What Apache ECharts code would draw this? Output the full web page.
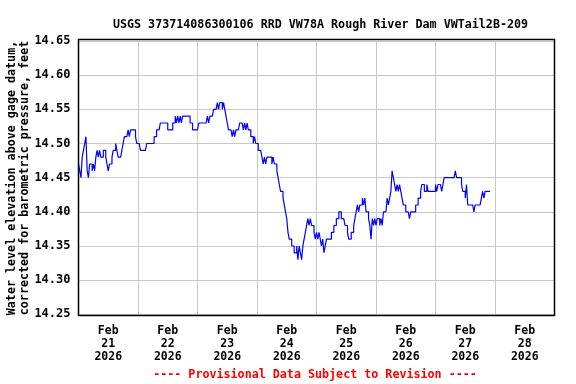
<!DOCTYPE html>
<html>
<head>
<meta charset="utf-8">
<script src="https://cdn.jsdelivr.net/npm/echarts@6.0.0/dist/echarts.min.js"></script>
<style>
html,body{margin:0;padding:0;background:#fff;}
#chart{width:576px;height:384px;}
</style>
</head>
<body>
<div id="chart"></div>
<script>
// Day tick labels (bands centered at noon of each day)
const dayLabels = ['Feb\n21\n2026','Feb\n22\n2026','Feb\n23\n2026','Feb\n24\n2026','Feb\n25\n2026','Feb\n26\n2026','Feb\n27\n2026','Feb\n28\n2026'];
// Y tick values
const yTicks = [14.25, 14.30, 14.35, 14.40, 14.45, 14.50, 14.55, 14.60, 14.65];
// Half-hourly water levels (feet), starting Feb 21 2026 00:00
const stepHours = 0.5;
const day1 = [14.47,14.46,14.45,14.48,14.49,14.50,14.51,14.46,14.45,14.47,
  14.47,14.46,14.47,14.46,14.48,14.49,14.48,14.49,14.48,14.48,
  14.49,14.49,14.48,14.47,14.46,14.47,14.47,14.48,14.49,14.49,
  14.50,14.49,14.48,14.48,14.48,14.49,14.50,14.51,14.51,14.51,
  14.52,14.51,14.52,14.52,14.52,14.52,14.51,14.50];
const day2 = [14.50,14.50,14.49,14.49,14.49,14.49,14.49,14.50,14.50,14.50,
  14.50,14.50,14.50,14.51,14.51,14.52,14.52,14.52,14.53,14.53,
  14.53,14.53,14.53,14.53,14.52,14.52,14.52,14.52,14.53,14.53,
  14.54,14.53,14.54,14.53,14.54,14.53,14.54,14.54,14.54,14.54,
  14.54,14.54,14.53,14.53,14.52,14.52,14.52,14.52];
const day3 = [14.52,14.53,14.53,14.53,14.53,14.53,14.53,14.53,14.54,14.53,
  14.54,14.54,14.54,14.55,14.55,14.55,14.56,14.55,14.56,14.56,
  14.55,14.56,14.55,14.54,14.53,14.52,14.52,14.52,14.51,14.52,
  14.51,14.52,14.52,14.52,14.53,14.53,14.53,14.52,14.53,14.52,
  14.53,14.52,14.52,14.51,14.51,14.50,14.51,14.50];
const day4 = [14.50,14.49,14.49,14.49,14.48,14.47,14.48,14.47,14.48,14.48,
  14.48,14.48,14.47,14.48,14.47,14.47,14.46,14.45,14.44,14.43,
  14.43,14.42,14.41,14.40,14.39,14.37,14.36,14.36,14.35,14.35,
  14.34,14.34,14.35,14.33,14.35,14.34,14.33,14.35,14.36,14.37,
  14.38,14.39,14.38,14.39,14.38,14.38,14.37,14.36];
const day5 = [14.37,14.36,14.37,14.36,14.35,14.36,14.34,14.35,14.36,14.36,
  14.36,14.36,14.37,14.37,14.38,14.38,14.39,14.39,14.40,14.40,
  14.39,14.39,14.39,14.38,14.38,14.37,14.36,14.36,14.37,14.37,
  14.38,14.39,14.40,14.41,14.40,14.41,14.41,14.42,14.41,14.42,
  14.40,14.40,14.39,14.38,14.36,14.39,14.38,14.39];
const day6 = [14.38,14.39,14.39,14.38,14.39,14.38,14.40,14.40,14.40,14.42,
  14.41,14.42,14.43,14.46,14.45,14.44,14.43,14.44,14.43,14.44,
  14.43,14.42,14.41,14.41,14.40,14.40,14.40,14.39,14.40,14.40,
  14.40,14.40,14.41,14.41,14.42,14.42,14.43,14.44,14.44,14.43,
  14.43,14.44,14.43,14.43,14.43,14.43,14.43,14.43];
const day7 = [14.44,14.43,14.44,14.44,14.44,14.43,14.44,14.45,14.45,14.45,
  14.45,14.45,14.45,14.45,14.45,14.45,14.46,14.45,14.45,14.45,
  14.45,14.44,14.43,14.43,14.42,14.44,14.41,14.41,14.41,14.41,
  14.41,14.40,14.41,14.41,14.41,14.41,14.41,14.42,14.43,14.42,
  14.43,14.43,14.43,14.43,14.43];
const levels = [].concat(day1, day2, day3, day4, day5, day6, day7);

const FONT = '"DejaVu Sans Mono", "Liberation Mono", monospace';
const seriesData = levels.map((v, i) => [i * stepHours, v]);

const chart = echarts.init(document.getElementById('chart'), null, {renderer: 'canvas'});
chart.setOption({
  animation: false,
  backgroundColor: '#ffffff',
  title: {
    text: 'USGS 373714086300106 RRD VW78A Rough River Dam VWTail2B-209',
    left: 315.5, top: 14, textAlign: 'center',
    textStyle: {fontFamily: FONT, fontWeight: 'bold', fontSize: 11.7, color: '#000'}
  },
  grid: {left: 78.5, top: 41, width: 476, height: 273.3, containLabel: false},
  xAxis: [
    {
      type: 'category', data: dayLabels, boundaryGap: true,
      axisLine: {show: false}, axisTick: {show: false},
      axisLabel: {interval: 0, margin: 10, lineHeight: 13, fontFamily: FONT, fontWeight: 'bold', fontSize: 11.5, color: '#000'},
      splitLine: {show: true, interval: 0, lineStyle: {color: '#c8c8c8', width: 1}}
    },
    {type: 'value', min: 0, max: 192, show: false}
  ],
  yAxis: {
    type: 'value', min: yTicks[0], max: yTicks[yTicks.length - 1], interval: 0.05,
    axisLine: {show: false}, axisTick: {show: false},
    axisLabel: {margin: 8, fontFamily: FONT, fontWeight: 'bold', fontSize: 12, color: '#000',
      formatter: v => v.toFixed(2)},
    splitLine: {show: true, lineStyle: {color: '#c8c8c8', width: 1}}
  },
  series: [{
    type: 'line', xAxisIndex: 1, data: seriesData, step: 'end',
    showSymbol: false, symbol: 'none',
    lineStyle: {color: '#0000ff', width: 1.2}
  }],
  graphic: [
    {type: 'rect', shape: {x: 78.5, y: 39.5, width: 476, height: 276}, silent: true,
      style: {fill: 'none', stroke: '#000', lineWidth: 1.5}, z: 100},
    {type: 'text', x: 18.5, y: 178, rotation: Math.PI / 2,
      style: {text: 'Water level elevation above gage datum,\ncorrected for barometric pressure, feet',
        align: 'center', verticalAlign: 'middle', lineHeight: 12.5,
        font: 'bold 11.7px ' + FONT, fill: '#000'}},
    {type: 'text', x: 315, y: 375,
      style: {text: '---- Provisional Data Subject to Revision ----',
        align: 'center', verticalAlign: 'middle',
        font: 'bold 11.7px ' + FONT, fill: '#ff0000'}}
  ]
});
</script>
</body>
</html>
